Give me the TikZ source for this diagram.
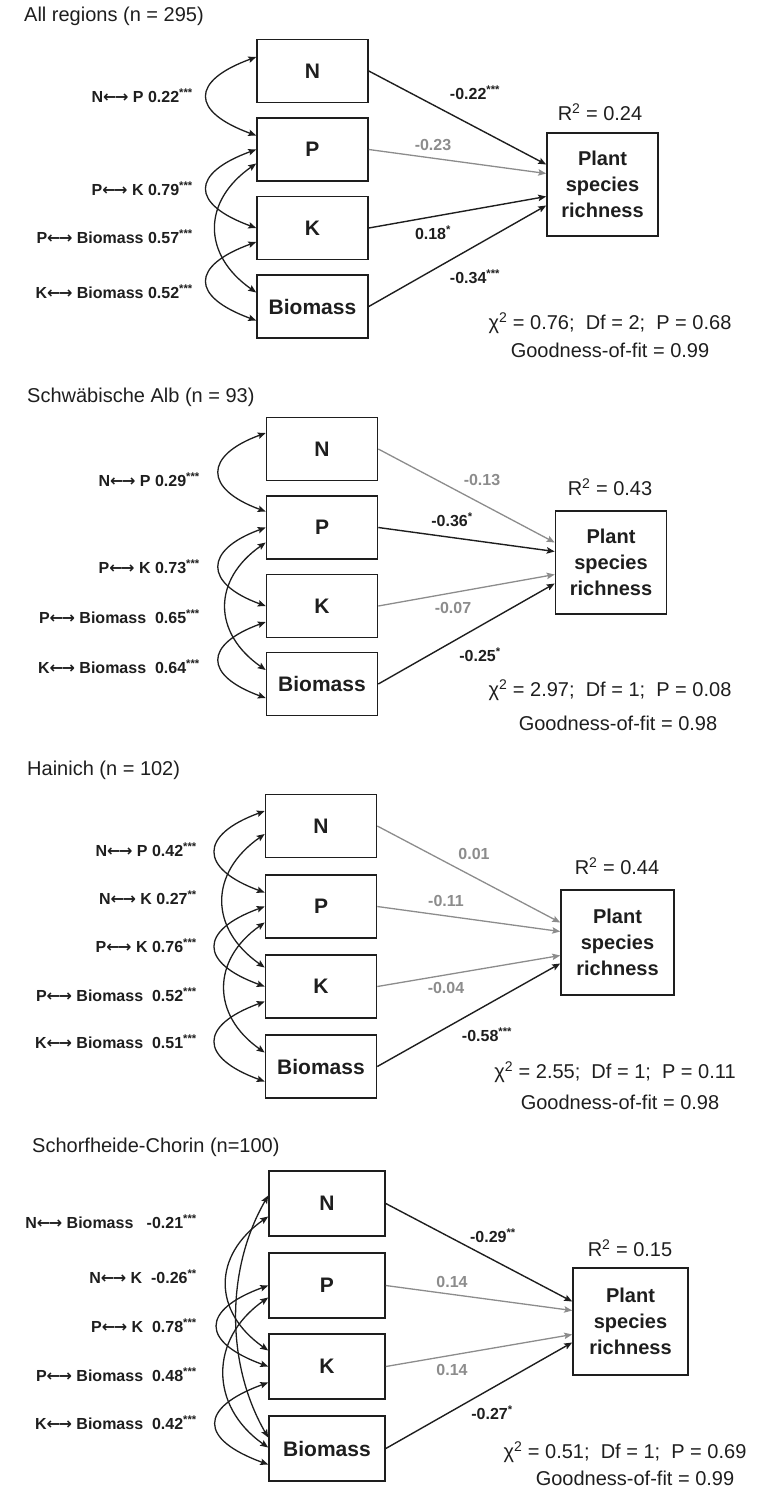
\documentclass[tikz,border=0pt]{standalone}
\usepackage{fontspec}
\setmainfont{Liberation Sans}
\newfontfamily\arrowfont{DejaVu Sans}
\usepackage{xcolor}
\usepackage{tikz}
\usetikzlibrary{arrows.meta}
\definecolor{ink}{HTML}{1E1E1E}
\definecolor{nsgray}{HTML}{8C8C8C}
\newcommand{\lr}{{\arrowfont ←\kern-1.5pt→}}

\begin{document}
\begin{tikzpicture}[x=1pt, y=1pt,
    >={Stealth[length=8pt, width=6.5pt, inset=1.5pt]},
    every node/.style={text=ink, inner sep=0pt},
    paneltitle/.style={anchor=west, font=\fontsize{20}{24}\selectfont},
    varbox/.style={draw=ink, line width=1.6pt, minimum width=111pt, minimum height=63pt,
                   font=\fontsize{21}{24}\selectfont\bfseries},
    outcome/.style={draw=ink, line width=1.6pt, minimum width=111pt, minimum height=103pt,
                    align=center, font=\fontsize{20}{26}\selectfont\bfseries},
    corr/.style={<->, draw=ink, line width=1.3pt},
    effect/.style={->, draw=ink, line width=1.4pt},
    effectns/.style={->, draw=nsgray, line width=1.3pt},
    corrlab/.style={anchor=east, font=\fontsize{16}{19}\selectfont\bfseries},
    coef/.style={font=\fontsize{16}{19}\selectfont\bfseries},
    coefns/.style={coef, text=nsgray},
    fitstat/.style={font=\fontsize{20}{24}\selectfont}]
  \useasboundingbox (0,0) rectangle (756,-1489);

  % All regions
  \node[paneltitle] (title1) at (24,-16) {All regions (n = 295)};
  \node[varbox] (n1) at (312.5,-71) {N};
  \node[varbox] (p1) at (312.5,-149.5) {P};
  \node[varbox] (k1) at (312.5,-228) {K};
  \node[varbox] (bio1) at (312.5,-306.5) {Biomass};
  \node[outcome] (rich1) at (602.5,-184.5) {Plant\\species\\richness};
  \node[fitstat] (rsq1) at (600,-112) {R\textsuperscript{2} = 0.24};
  \node[fitstat] (chi1) at (610,-323) {χ\textsuperscript{2} = 0.76;\ \ Df = 2;\ \ P = 0.68};
  \node[fitstat] (gof1) at (610,-350) {Goodness-of-fit = 0.99};
  \node[corrlab] (c1np) at (193,-96) {N\lr\ P 0.22\textsuperscript{***}};
  \node[corrlab] (c1pk) at (193,-189) {P\lr\ K 0.79\textsuperscript{***}};
  \node[corrlab] (c1pb) at (193,-237) {P\lr\ Biomass 0.57\textsuperscript{***}};
  \node[corrlab] (c1kb) at (193,-292) {K\lr\ Biomass 0.52\textsuperscript{***}};
  \node[coef] (b1n) at (475,-93) {-0.22\textsuperscript{***}};
  \node[coefns] (b1p) at (433,-145) {-0.23};
  \node[coef] (b1k) at (433,-233) {0.18\textsuperscript{*}};
  \node[coef] (b1b) at (475,-277) {-0.34\textsuperscript{***}};
  \draw[effect] (n1.east) -- ([yshift=20pt]rich1.west);
  \draw[effectns] (p1.east) -- ([yshift=11pt]rich1.west);
  \draw[effect] (k1.east) -- ([yshift=-12pt]rich1.west);
  \draw[effect] (bio1.east) -- ([yshift=-21pt]rich1.west);
  \draw[corr] ([yshift=14pt]n1.west) to[out=200, in=160, distance=70pt] ([yshift=14pt]p1.west);
  \draw[corr] (p1.west) to[out=200, in=160, distance=70pt] (k1.west);
  \draw[corr] ([yshift=-14pt]p1.west) to[out=215, in=145, distance=66pt] ([yshift=14pt]bio1.west);
  \draw[corr] ([yshift=-14pt]k1.west) to[out=200, in=160, distance=70pt] ([yshift=-14pt]bio1.west);

  % Schwaebische Alb
  \node[paneltitle] (title2) at (27,-397) {Schwäbische Alb (n = 93)};
  \node[varbox] (n2) at (322,-449) {N};
  \node[varbox] (p2) at (322,-527.5) {P};
  \node[varbox] (k2) at (322,-606) {K};
  \node[varbox] (bio2) at (322,-684) {Biomass};
  \node[outcome] (rich2) at (611,-562.5) {Plant\\species\\richness};
  \node[fitstat] (rsq2) at (610,-487) {R\textsuperscript{2} = 0.43};
  \node[fitstat] (chi2) at (610,-690) {χ\textsuperscript{2} = 2.97;\ \ Df = 1;\ \ P = 0.08};
  \node[fitstat] (gof2) at (618,-723) {Goodness-of-fit = 0.98};
  \node[corrlab] (c2np) at (200,-480) {N\lr\ P 0.29\textsuperscript{***}};
  \node[corrlab] (c2pk) at (200,-567) {P\lr\ K 0.73\textsuperscript{***}};
  \node[corrlab] (c2pb) at (200,-617) {P\lr\ Biomass\ \ 0.65\textsuperscript{***}};
  \node[corrlab] (c2kb) at (200,-667) {K\lr\ Biomass\ \ 0.64\textsuperscript{***}};
  \node[coefns] (b2n) at (482,-480) {-0.13};
  \node[coef] (b2p) at (452,-520) {-0.36\textsuperscript{*}};
  \node[coefns] (b2k) at (453,-608) {-0.07};
  \node[coef] (b2b) at (480,-655) {-0.25\textsuperscript{*}};
  \draw[effectns] (n2.east) -- ([yshift=20pt]rich2.west);
  \draw[effect] (p2.east) -- ([yshift=11pt]rich2.west);
  \draw[effectns] (k2.east) -- ([yshift=-12pt]rich2.west);
  \draw[effect] (bio2.east) -- ([yshift=-21pt]rich2.west);
  \draw[corr] ([yshift=16pt]n2.west) to[out=200, in=160, distance=66pt] ([yshift=16pt]p2.west);
  \draw[corr] (p2.west) to[out=200, in=160, distance=66pt] (k2.west);
  \draw[corr] ([yshift=-15pt]p2.west) to[out=215, in=145, distance=65pt] ([yshift=14pt]bio2.west);
  \draw[corr] ([yshift=-16pt]k2.west) to[out=200, in=160, distance=66pt] ([yshift=-14pt]bio2.west);

  % Hainich
  \node[paneltitle] (title3) at (27,-770) {Hainich (n = 102)};
  \node[varbox] (n3) at (321,-826) {N};
  \node[varbox] (p3) at (321,-906.5) {P};
  \node[varbox] (k3) at (321,-986.5) {K};
  \node[varbox] (bio3) at (321,-1066.5) {Biomass};
  \node[outcome, minimum width=113pt, minimum height=105pt] (rich3) at (617.5,-942.5) {Plant\\species\\richness};
  \node[fitstat] (rsq3) at (617,-866) {R\textsuperscript{2} = 0.44};
  \node[fitstat] (chi3) at (615,-1072) {χ\textsuperscript{2} = 2.55;\ \ Df = 1;\ \ P = 0.11};
  \node[fitstat] (gof3) at (620,-1102) {Goodness-of-fit = 0.98};
  \node[corrlab] (c3np) at (197,-850) {N\lr\ P 0.42\textsuperscript{***}};
  \node[corrlab] (c3nk) at (197,-898) {N\lr\ K 0.27\textsuperscript{**}};
  \node[corrlab] (c3pk) at (197,-946) {P\lr\ K 0.76\textsuperscript{***}};
  \node[corrlab] (c3pb) at (197,-995) {P\lr\ Biomass\ \ 0.52\textsuperscript{***}};
  \node[corrlab] (c3kb) at (197,-1042) {K\lr\ Biomass\ \ 0.51\textsuperscript{***}};
  \node[coefns] (b3n) at (474,-854) {0.01};
  \node[coefns] (b3p) at (446,-901) {-0.11};
  \node[coefns] (b3k) at (446,-988) {-0.04};
  \node[coef] (b3b) at (487,-1035) {-0.58\textsuperscript{***}};
  \draw[effectns] (n3.east) -- ([yshift=20pt]rich3.west);
  \draw[effectns] (p3.east) -- ([yshift=11pt]rich3.west);
  \draw[effectns] (k3.east) -- ([yshift=-13pt]rich3.west);
  \draw[effect] (bio3.east) -- ([yshift=-21pt]rich3.west);
  \draw[corr] ([yshift=15pt]n3.west) to[out=200, in=160, distance=70pt] ([yshift=14pt]p3.west);
  \draw[corr] ([yshift=-8pt]n3.west) to[out=215, in=145, distance=68pt] ([yshift=19pt]k3.west);
  \draw[corr] (p3.west) to[out=200, in=160, distance=70pt] (k3.west);
  \draw[corr] ([yshift=-16pt]p3.west) to[out=215, in=145, distance=65pt] ([yshift=14pt]bio3.west);
  \draw[corr] ([yshift=-15pt]k3.west) to[out=200, in=160, distance=70pt] ([yshift=-15pt]bio3.west);

  % Schorfheide-Chorin
  \begin{scope}[varbox/.append style={minimum width=116pt, minimum height=65pt}]
  \node[paneltitle] (title4) at (32,-1147) {Schorfheide-Chorin (n=100)};
  \node[varbox] (n4) at (327,-1203.5) {N};
  \node[varbox] (p4) at (327,-1285.5) {P};
  \node[varbox] (k4) at (327,-1366.5) {K};
  \node[varbox] (bio4) at (327,-1448.5) {Biomass};
  \node[outcome, minimum width=115pt, minimum height=107pt] (rich4) at (630.5,-1321.5) {Plant\\species\\richness};
  \node[fitstat] (rsq4) at (630,-1248) {R\textsuperscript{2} = 0.15};
  \node[fitstat] (chi4) at (625,-1452) {χ\textsuperscript{2} = 0.51;\ \ Df = 1;\ \ P = 0.69};
  \node[fitstat] (gof4) at (635,-1478) {Goodness-of-fit = 0.99};
  \node[corrlab] (c4nb) at (197,-1222) {N\lr\ Biomass\ \ \ -0.21\textsuperscript{***}};
  \node[corrlab] (c4nk) at (197,-1277) {N\lr\ K\ \ -0.26\textsuperscript{**}};
  \node[corrlab] (c4pk) at (197,-1326) {P\lr\ K\ \ 0.78\textsuperscript{***}};
  \node[corrlab] (c4pb) at (197,-1375) {P\lr\ Biomass\ \ 0.48\textsuperscript{***}};
  \node[corrlab] (c4kb) at (197,-1423) {K\lr\ Biomass\ \ 0.42\textsuperscript{***}};
  \node[coef] (b4n) at (493,-1236) {-0.29\textsuperscript{**}};
  \node[coefns] (b4p) at (452,-1282) {0.14};
  \node[coefns] (b4k) at (452,-1370) {0.14};
  \node[coef] (b4b) at (492,-1413) {-0.27\textsuperscript{*}};
  \draw[effect] (n4.east) -- ([yshift=20pt]rich4.west);
  \draw[effectns] (p4.east) -- ([yshift=11pt]rich4.west);
  \draw[effectns] (k4.east) -- ([yshift=-13pt]rich4.west);
  \draw[effect] (bio4.east) -- ([yshift=-21pt]rich4.west);
  \draw[corr] ([yshift=8pt]n4.west) to[out=240, in=120, distance=85pt] ([yshift=11pt]bio4.west);
  \draw[corr] ([yshift=-13pt]n4.west) to[out=215, in=145, distance=68pt] ([yshift=16pt]k4.west);
  \draw[corr] (p4.west) to[out=200, in=160, distance=72pt] (k4.west);
  \draw[corr] ([yshift=-12pt]p4.west) to[out=215, in=145, distance=72pt] ([yshift=1pt]bio4.west);
  \draw[corr] ([yshift=-16pt]k4.west) to[out=200, in=160, distance=74pt] ([yshift=-16pt]bio4.west);
  \end{scope}
\end{tikzpicture}
\end{document}
